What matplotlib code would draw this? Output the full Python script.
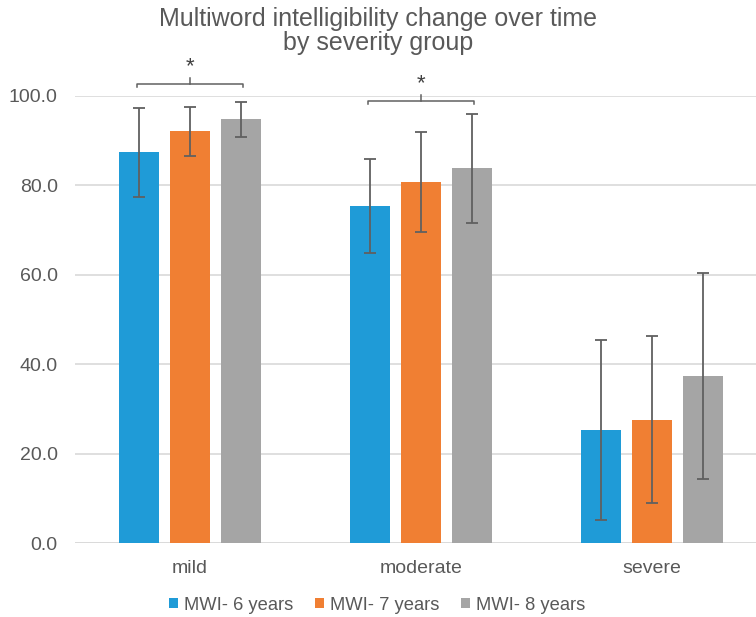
import matplotlib
matplotlib.use("Agg")
import matplotlib.pyplot as plt
import numpy as np
from matplotlib.patches import Patch

plt.rcParams['font.family'] = ['Liberation Sans', 'DejaVu Sans']

categories = ["mild", "moderate", "severe"]
series = ["MWI- 6 years", "MWI- 7 years", "MWI- 8 years"]
values = [
    [87.4, 75.3, 25.3],
    [92.1, 80.8, 27.6],
    [94.8, 83.8, 37.3],
]
errors = [
    [10.0, 10.5, 20.1],
    [5.5, 11.2, 18.6],
    [3.9, 12.2, 23.0],
]
colors = ["#1F9BD7", "#F07F33", "#A5A5A5"]
y_ticks = [0, 20, 40, 60, 80, 100]
sig_brackets = [(0, 0, 2, 102.7), (1, 0, 2, 98.9)]  # (category, first series, last series, y)

W, H = 756, 617
fig = plt.figure(figsize=(W/100, H/100), dpi=100)
ax = fig.add_axes([74.5/W, 74/H, 693/W, 447/H])

x = np.arange(len(categories))
bw = 0.173
step = 0.221
text_col = "#595959"
for i, (s, v, e, c) in enumerate(zip(series, values, errors, colors)):
    pos = x + (i - 1) * step
    ax.bar(pos, v, width=bw, color=c, zorder=2, label=s)
    ax.errorbar(pos, v, yerr=e, fmt='none', ecolor="#606060", elinewidth=1.3,
                capsize=4.5, capthick=1.3, zorder=3)

ax.set_xlim(-0.5, 2.5)
ax.set_ylim(0, 100)
ax.set_yticks(y_ticks)
ax.set_yticklabels([f"{t:.1f}" for t in y_ticks])
ax.set_xticks(x)
ax.set_xticklabels(categories)
ax.tick_params(axis='both', length=0, labelsize=14, labelcolor=text_col)
ax.tick_params(axis='y', pad=12)
ax.tick_params(axis='x', pad=12)
ax.yaxis.grid(True, color="#D9D9D9", linewidth=1.2, zorder=0)
ax.set_axisbelow(True)
for sp in ax.spines.values():
    sp.set_visible(False)
ax.axhline(0, color="#D9D9D9", linewidth=1.2, zorder=1)

for cat, a, b, yb in sig_brackets:
    x0 = cat + (a - 1) * step - 0.01
    x1 = cat + (b - 1) * step + 0.01
    xc = cat
    ax.plot([x0, x0, x1, x1], [yb - 0.6, yb, yb, yb - 0.6], color="#606060",
            linewidth=1.1, clip_on=False)
    ax.plot([xc, xc], [yb, yb + 1.4], color="#606060", linewidth=1.1, clip_on=False)
    ax.text(xc, yb + 2.6, "*", ha='center', va='baseline', fontsize=16,
            color="#404040", clip_on=False)

fig.text(0.5, 1 - 31/H, "Multiword intelligibility change over time\nby severity group",
         ha='center', va='center', fontsize=18, color=text_col, linespacing=1.0)

handles = [Patch(facecolor=c, edgecolor='none') for c in colors]
fig.legend(handles, series, loc='center', bbox_to_anchor=(377/W, 1 - 605/H),
           ncol=3, frameon=False, fontsize=13.2, labelcolor=text_col,
           handlelength=0.5, handleheight=0.5, handletextpad=0.3, columnspacing=1.2)

fig.savefig("out.png", dpi=100)
